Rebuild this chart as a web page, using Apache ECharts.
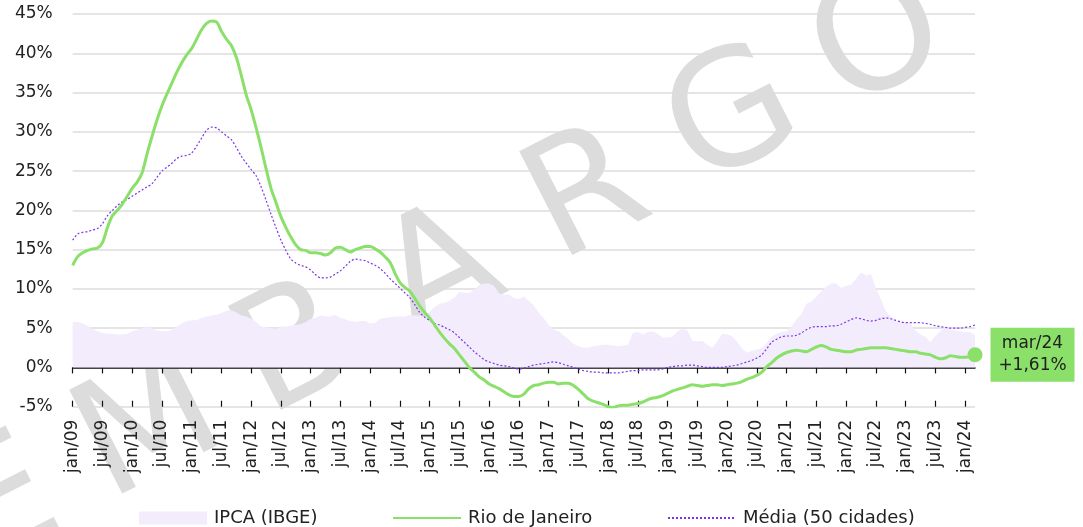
<!DOCTYPE html>
<html>
<head>
<meta charset="utf-8">
<script src="https://cdn.jsdelivr.net/npm/echarts@6/dist/echarts.min.js"></script>
<style>
  html, body { margin: 0; padding: 0; background: #fff; }
  #chart { width: 1083px; height: 527px; }
</style>
</head>
<body>
<div id="chart"></div>
<script>
  // meses e anos (jan/09 a mar/24)
  const mesesNomes = ['jan', 'fev', 'mar', 'abr', 'mai', 'jun', 'jul', 'ago', 'set', 'out', 'nov', 'dez']
  const anos = ['09', '10', '11', '12', '13', '14', '15', '16', '17', '18', '19', '20', '21', '22', '23', '24']
  const categorias = []
  anos.forEach(a => mesesNomes.forEach(m => categorias.push(m + '/' + a)))
  categorias.length = 183  // até mar/24

  // IPCA (IBGE) - acumulado 12 meses (%)
  const ipca = [
    5.8, 5.8, 5.6, 5.3, 4.9, 4.6, 4.4, 4.3, 4.3, 4.2, 4.2, 4.3,
    4.6, 4.8, 5.0, 5.2, 5.0, 4.7, 4.6, 4.6, 4.8, 5.2, 5.6, 5.9,
    6.0, 6.0, 6.3, 6.5, 6.6, 6.7, 6.9, 7.2, 7.3, 7.0, 6.6, 6.5,
    6.2, 5.8, 5.2, 5.1, 5.0, 4.9, 5.2, 5.2, 5.3, 5.4, 5.5, 5.8,
    6.2, 6.3, 6.6, 6.5, 6.5, 6.7, 6.3, 6.1, 5.9, 5.8, 5.9, 5.9,
    5.6, 5.7, 6.2, 6.3, 6.4, 6.5, 6.5, 6.5, 6.7, 6.6, 6.6, 6.4,
    7.1, 7.7, 8.1, 8.2, 8.5, 8.9, 9.6, 9.5, 9.5, 9.9, 10.5, 10.7,
    10.7, 10.4, 9.4, 9.3, 9.3, 8.8, 8.7, 9.0, 8.5, 7.9, 7.0, 6.3,
    5.4, 4.8, 4.6, 4.1, 3.6, 3.0, 2.7, 2.5, 2.5, 2.7, 2.8, 2.9,
    2.9, 2.8, 2.7, 2.8, 2.9, 4.4, 4.5, 4.2, 4.5, 4.6, 4.3, 3.8,
    3.8, 3.9, 4.6, 4.9, 4.7, 3.4, 3.3, 3.4, 2.9, 2.5, 3.3, 4.3,
    4.2, 4.0, 3.3, 2.4, 1.9, 2.1, 2.3, 2.4, 3.1, 3.9, 4.3, 4.5,
    4.6, 5.2, 6.1, 6.8, 8.1, 8.4, 9.0, 9.7, 10.3, 10.7, 10.7, 10.1,
    10.4, 10.5, 11.3, 12.1, 11.7, 11.9, 10.1, 8.7, 7.2, 6.5, 5.9, 5.8,
    5.8, 5.6, 4.7, 4.2, 3.9, 3.2, 4.0, 4.6, 5.2, 4.8, 4.7, 4.6,
    4.5, 4.5, 4.1
  ]

  // Rio de Janeiro (%)
  const rio = [
    13.0, 14.1, 14.6, 14.9, 15.1, 15.2, 15.9, 17.8, 19.3, 20.0, 20.8, 21.8,
    22.8, 23.6, 24.8, 27.2, 29.4, 31.5, 33.3, 34.8, 36.2, 37.6, 38.8, 39.8,
    40.6, 41.8, 43.0, 43.8, 44.1, 44.0, 42.8, 41.8, 41.0, 39.5, 37.2, 34.7,
    32.8, 30.5, 28.0, 25.3, 22.8, 21.0, 19.2, 17.8, 16.6, 15.6, 15.0, 14.9,
    14.6, 14.6, 14.5, 14.3, 14.6, 15.2, 15.3, 15.0, 14.7, 15.0, 15.2, 15.4,
    15.4, 15.1, 14.7, 14.1, 13.4, 12.0, 10.8, 10.2, 9.7, 8.8, 7.8, 7.0,
    6.3, 5.4, 4.5, 3.7, 3.0, 2.4, 1.6, 0.8, 0.0, -0.6, -1.2, -1.6,
    -2.1, -2.4, -2.7, -3.1, -3.5, -3.7, -3.7, -3.4, -2.7, -2.3, -2.2, -2.0,
    -1.9, -1.9, -2.1, -2.0, -2.0, -2.3, -2.8, -3.4, -4.0, -4.3, -4.5, -4.7,
    -5.0, -5.1, -4.9, -4.8, -4.8, -4.7, -4.6, -4.4, -4.1, -3.9, -3.8, -3.6,
    -3.3, -3.0, -2.8, -2.6, -2.4, -2.2, -2.3, -2.4, -2.3, -2.2, -2.2, -2.3,
    -2.2, -2.1, -2.0, -1.8, -1.5, -1.3, -1.0, -0.6, 0.1, 0.6, 1.2, 1.6,
    1.9, 2.1, 2.2, 2.1, 2.0, 2.3, 2.6, 2.8, 2.6, 2.3, 2.2, 2.1,
    2.0, 2.0, 2.2, 2.3, 2.4, 2.5, 2.5, 2.5, 2.5, 2.4, 2.3, 2.2,
    2.1, 2.0, 2.0, 1.8, 1.7, 1.6, 1.3, 1.1, 1.2, 1.5, 1.4, 1.3,
    1.3, 1.35, 1.61
  ]

  // Média (50 cidades) (%)
  const media = [
    16.2, 17.0, 17.2, 17.3, 17.5, 17.7, 18.3, 19.3, 20.0, 20.6, 21.1, 21.4,
    21.8, 22.2, 22.6, 23.0, 23.4, 24.2, 25.0, 25.5, 26.0, 26.6, 26.9, 27.0,
    27.3, 28.2, 29.2, 30.2, 30.6, 30.5, 30.0, 29.5, 29.0, 28.0, 26.9, 26.0,
    25.2, 24.4, 23.0, 21.3, 19.5, 17.8, 16.2, 14.9, 13.8, 13.3, 13.0, 12.8,
    12.4, 11.8, 11.4, 11.4, 11.5, 11.9, 12.3, 12.9, 13.5, 13.8, 13.7, 13.6,
    13.3, 13.0, 12.6, 12.0, 11.3, 10.7, 10.1, 9.5, 8.9, 8.0, 7.0, 6.4,
    6.0, 5.6, 5.4, 5.1, 4.8, 4.4, 3.8, 3.2, 2.6, 2.0, 1.5, 1.0,
    0.7, 0.5, 0.3, 0.2, 0.1, -0.1, -0.2, -0.1, 0.1, 0.3, 0.4, 0.5,
    0.6, 0.7, 0.6, 0.4, 0.2, 0.0, -0.2, -0.4, -0.5, -0.6, -0.6, -0.7,
    -0.7, -0.7, -0.7, -0.6, -0.5, -0.4, -0.4, -0.3, -0.3, -0.3, -0.3, -0.2,
    0.0, 0.1, 0.2, 0.2, 0.3, 0.3, 0.2, 0.1, 0.0, 0.0, 0.0, 0.0,
    0.1, 0.2, 0.3, 0.5, 0.7, 0.9, 1.2, 1.6, 2.4, 3.2, 3.6, 3.9,
    4.0, 4.0, 4.1, 4.4, 4.8, 5.1, 5.2, 5.2, 5.2, 5.3, 5.3, 5.5,
    5.8, 6.1, 6.3, 6.2, 6.0, 5.9, 6.0, 6.2, 6.3, 6.2, 6.0, 5.8,
    5.7, 5.7, 5.7, 5.7, 5.6, 5.5, 5.3, 5.2, 5.1, 5.0, 5.0, 5.0,
    5.1, 5.2, 5.4
  ]

  // ticks do eixo y
  const yMin = -5, yMax = 45, yPasso = 5

  const verde = '#8be06a'
  const roxo = '#7b35e8'
  const lilas = '#f2ecfd'
  const fonte = 'DejaVu Sans'

  // último ponto com destaque
  const ult = rio.length - 1
  const rioData = rio.map((v, i) => i === ult ? {
    value: v,
    symbol: 'circle',
    symbolSize: 15,
    itemStyle: { color: verde },
    label: {
      show: true,
      position: 'right',
      distance: 8,
      backgroundColor: verde,
      padding: [5, 11],
      formatter: p => '{t|' + p.name + '}\n{t|+' + p.value.toFixed(2).replace('.', ',') + '%}',
      rich: { t: { width: 62, align: 'center', fontSize: 17, lineHeight: 22, color: '#222', fontFamily: fonte } }
    }
  } : v)

  // marca d'agua
  const marca = 'EMBARGO'
  const marcaEls = marca.split('').map((c, i) => ({
    type: 'text',
    x: 5 + 146 * i,
    y: 510 - 77.5 * i,
    rotation: 27 * Math.PI / 180,
    z: -10,
    silent: true,
    style: { text: c, fontSize: 160, fontFamily: fonte, fill: '#dcdcdc', align: 'center', verticalAlign: 'middle' }
  }))

  const legendaBase = {
    top: 504,
    itemWidth: 68,
    itemHeight: 13,
    itemGap: 7,
    textStyle: { fontSize: 18, color: '#222', fontFamily: fonte, padding: [0, 0, 0, 2] }
  }

  let myChart = echarts.init(document.getElementById('chart'))
  myChart.setOption({
    animation: false,
    textStyle: { fontFamily: fonte },
    graphic: { elements: marcaEls },
    grid: { left: 72.7, right: 108, top: 14, bottom: 120.3 },
    legend: [
      Object.assign({}, legendaBase, { left: 134, data: [{ name: 'IPCA (IBGE)', icon: 'rect', itemStyle: { color: lilas } }] }),
      Object.assign({}, legendaBase, { left: 387, itemStyle: { opacity: 0 }, data: ['Rio de Janeiro'] }),
      Object.assign({}, legendaBase, { left: 662, itemStyle: { opacity: 0 }, data: ['Média (50 cidades)'] })
    ],
    xAxis: [
      {   // linha do zero com ticks para baixo
        type: 'category', data: categorias, boundaryGap: false,
        axisLine: { onZero: true, lineStyle: { color: '#111', width: 1.5 } },
        axisTick: { show: true, interval: 5, length: 6, lineStyle: { color: '#111', width: 1.2 } },
        axisLabel: { show: false }, splitLine: { show: false }
      },
      {   // ticks para cima
        type: 'category', data: categorias, boundaryGap: false, position: 'bottom',
        axisLine: { show: false, onZero: true },
        axisTick: { show: true, inside: true, interval: 5, length: 6, lineStyle: { color: '#111', width: 1.2 } },
        axisLabel: { show: false }, splitLine: { show: false }
      },
      {   // rotulos embaixo
        type: 'category', data: categorias, boundaryGap: false, position: 'bottom',
        axisLine: { show: false, onZero: false },
        axisTick: { show: false },
        axisLabel: { interval: 5, rotate: 90, margin: 13, fontSize: 17, color: '#222', fontFamily: fonte },
        splitLine: { show: false }
      }
    ],
    yAxis: {
      type: 'value', min: yMin, max: yMax, interval: yPasso,
      axisLine: { show: false }, axisTick: { show: false },
      axisLabel: { formatter: '{value}%', fontSize: 17, color: '#222', margin: 20, fontFamily: fonte },
      splitLine: { lineStyle: { color: '#dddddd', width: 1.5 } }
    },
    series: [
      {
        name: 'IPCA (IBGE)', type: 'line', data: ipca, symbol: 'none',
        lineStyle: { width: 0 }, itemStyle: { color: lilas },
        areaStyle: { color: lilas, opacity: 1 }, z: 1
      },
      {
        name: 'Média (50 cidades)', type: 'line', data: media, symbol: 'none', smooth: 0.3,
        lineStyle: { color: roxo, width: 1.2, type: [2, 2] }, itemStyle: { color: roxo }, z: 3
      },
      {
        name: 'Rio de Janeiro', type: 'line', data: rioData, symbol: 'none', showAllSymbol: true, smooth: 0.3,
        lineStyle: { color: verde, width: 3 }, itemStyle: { color: verde }, z: 4
      }
    ]
  })
</script>
</body>
</html>
